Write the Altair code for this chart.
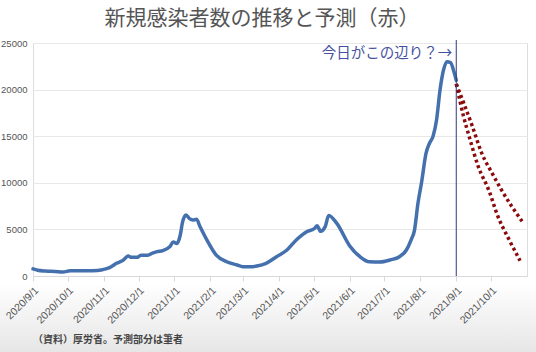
import altair as alt
import pandas as pd

# ---- data ----
blue_dates = [
    "2020-09-01", "2020-09-05", "2020-09-12", "2020-09-20", "2020-09-27", "2020-10-03",
    "2020-10-12", "2020-10-22", "2020-10-31", "2020-11-06", "2020-11-12", "2020-11-18",
    "2020-11-22", "2020-11-25", "2020-11-30", "2020-12-03", "2020-12-09", "2020-12-13",
    "2020-12-17", "2020-12-22", "2020-12-28", "2020-12-31", "2021-01-03", "2021-01-06",
    "2021-01-08", "2021-01-11", "2021-01-14", "2021-01-17", "2021-01-20", "2021-01-23",
    "2021-01-29", "2021-02-06", "2021-02-15", "2021-02-24", "2021-03-01", "2021-03-07",
    "2021-03-13", "2021-03-21", "2021-03-30", "2021-04-08", "2021-04-16", "2021-04-25",
    "2021-05-02", "2021-05-04", "2021-05-07", "2021-05-11", "2021-05-14", "2021-05-21",
    "2021-06-01", "2021-06-10", "2021-06-18", "2021-06-27", "2021-07-06", "2021-07-14",
    "2021-07-20", "2021-07-24", "2021-07-27", "2021-07-30", "2021-08-02", "2021-08-06",
    "2021-08-09", "2021-08-12", "2021-08-15", "2021-08-18", "2021-08-21", "2021-08-24",
    "2021-08-27", "2021-08-30", "2021-09-01",
]
blue_values = [
    760, 620, 530, 480, 420, 560,
    560, 570, 680, 890, 1360, 1720,
    2150, 2000, 2000, 2230, 2230, 2450,
    2610, 2720, 3150, 3650, 3480, 4400,
    5800, 6540, 6150, 6000, 6100, 5300,
    3860, 2250, 1530, 1180, 1000, 980,
    1070, 1360, 2070, 2790, 3860, 4750,
    5120, 5400, 4800, 5300, 6500, 5650,
    3250, 2070, 1530, 1500, 1720, 2070,
    2790, 3860, 4930, 7830, 9980, 13200,
    14270, 15000, 16740, 19960, 22100, 23000,
    22900, 21920, 21000,
]

upper_dates = ["2021-09-01", "2021-09-07", "2021-09-15", "2021-09-23", "2021-10-02",
               "2021-10-10", "2021-10-19", "2021-10-28"]
upper_values = [20600, 18700, 16020, 13160, 11020, 9230, 7440, 5830]

lower_dates = ["2021-09-01", "2021-09-07", "2021-09-13", "2021-09-20", "2021-09-29",
               "2021-10-07", "2021-10-16", "2021-10-26"]
lower_values = [20600, 17270, 14590, 11730, 9230, 6360, 4040, 1640]

month_ticks = ["2020-09-01", "2020-10-01", "2020-11-01", "2020-12-01", "2021-01-01",
               "2021-02-01", "2021-03-01", "2021-04-01", "2021-05-01", "2021-06-01",
               "2021-07-01", "2021-08-01", "2021-09-01", "2021-10-01"]
x_domain = ["2020-09-01", "2021-11-01"]
y_ticks = [0, 5000, 10000, 15000, 20000, 25000]

title_text = "新規感染者数の推移と予測（赤）"
note_text = "今日がこの辺り？→"
source_text = "（資料）厚労省。予測部分は筆者"
today = "2021-09-01"


def ms(s):
    return int(pd.Timestamp(s, tz="UTC").value // 1_000_000)


# ---- tables (dates as UTC epoch ms) ----
blue_df = pd.DataFrame({"date": [ms(d) for d in blue_dates], "value": blue_values})
fc_df = pd.DataFrame({
    "date": [ms(d) for d in upper_dates + lower_dates],
    "value": upper_values + lower_values,
    "series": ["upper"] * len(upper_dates) + ["lower"] * len(lower_dates),
})
today_df = pd.DataFrame({"date": [ms(today)], "label": [note_text]})

NUM_FONT = "Liberation Sans"
JP_FONT = "Noto Sans CJK JP"

x_scale = alt.Scale(type="utc", domain=[ms(d) for d in x_domain])
x_axis = alt.Axis(
    values=[ms(d) for d in month_ticks],
    labelExpr="utcFormat(datum.value, '%Y/%-m/%-d')",
    labelAngle=-45, labelAlign="right",
    labelBaseline="top", labelFontSize=10.5, labelFont=NUM_FONT, labelColor="#555555",
    labelPadding=4, tickSize=5, tickColor="#d9d9d9", domainColor="#d9d9d9",
    grid=False, title=None, labelOverlap=False, labelFlush=False, zindex=2,
)
y_scale = alt.Scale(domain=[0, 25000], nice=False)
y_axis = alt.Axis(
    values=y_ticks, format="d", labelFontSize=9.5, labelFont=NUM_FONT,
    labelColor="#555555", labelPadding=6, ticks=False, domain=False,
    grid=True, gridColor="#e8e8e8", title=None,
)

X = alt.X("date:T", scale=x_scale, axis=x_axis)
Y = alt.Y("value:Q", scale=y_scale, axis=y_axis)

bg = alt.Chart(alt.Data(values=[{}])).mark_rect(
    fill=alt.Gradient(
        gradient="linear", x1=0, x2=0, y1=0, y2=1,
        stops=[alt.GradientStop(offset=0, color="#ffffff"),
               alt.GradientStop(offset=1, color="#e6e6e6")],
    )
).encode(x=alt.value(-33), x2=alt.value(503), y=alt.value(240), y2=alt.value(309))

blue = alt.Chart(blue_df).mark_line(
    color="#4470ae", strokeWidth=3.5, interpolate="monotone", strokeCap="round",
    strokeJoin="round",
).encode(x=X, y=Y)

forecast = alt.Chart(fc_df).mark_line(
    color="#8b0a0a", strokeWidth=3.5, strokeDash=[3, 3], interpolate="monotone",
).encode(x=X, y=Y, detail="series:N")

rule = alt.Chart(today_df).mark_rule(color="#2e3a7a", strokeWidth=1).encode(
    x=X, y=alt.value(-3), y2=alt.value(233)
)

note = alt.Chart(today_df).mark_text(
    align="right", baseline="middle", dx=-4, fontSize=14.5, font=JP_FONT,
    color="#44519e",
).encode(x=X, y=alt.value(11), text="label:N")

title = alt.Chart(alt.Data(values=[{"t": title_text}])).mark_text(
    align="center", baseline="middle", fontSize=21, font=JP_FONT, color="#555555",
).encode(x=alt.value(229), y=alt.value(-24), text="t:N")

source = alt.Chart(alt.Data(values=[{"t": source_text}])).mark_text(
    align="left", baseline="middle", fontSize=10, font=JP_FONT, fontWeight="bold",
    color="#444444",
).encode(x=alt.value(0), y=alt.value(297), text="t:N")

chart = alt.layer(bg, blue, forecast, rule, note, title, source).properties(
    width=494, height=233,
    autosize=alt.AutoSizeParams(type="none"),
    padding={"left": 33, "top": 43, "right": 9, "bottom": 76},
).configure_view(stroke=None).configure(background="#ffffff")

chart.save("out.html", embed_options={"renderer": "svg", "actions": False})
